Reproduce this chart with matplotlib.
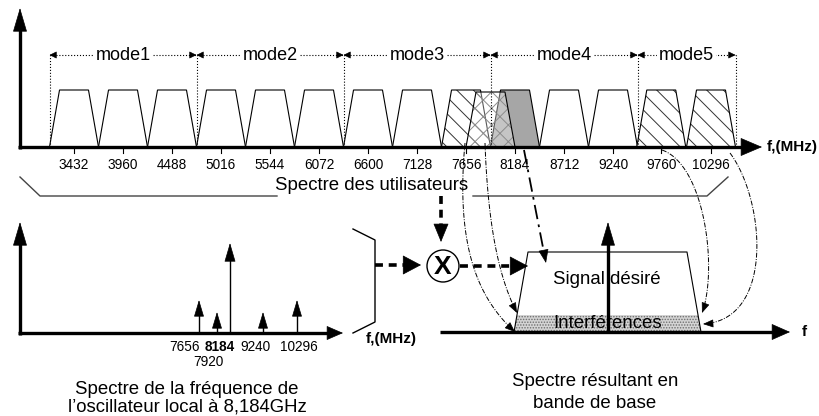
import numpy as np
import matplotlib
matplotlib.use("Agg")
import matplotlib.pyplot as plt
from matplotlib.patches import Polygon, Circle
from math import comb

plt.rcParams['font.family'] = ['Liberation Sans', 'DejaVu Sans']
plt.rcParams['hatch.linewidth'] = 0.7

W, H = 819, 416

# ---- data -------------------------------------------------------------
band_freqs = [3432, 3960, 4488, 5016, 5544, 6072, 6600, 7128,
              7656, 8184, 8712, 9240, 9760, 10296]
band_kind = ['plain'] * 8 + ['hatch', 'gray', 'plain', 'plain', 'hatch', 'hatch']
image_freq = 7920          # image band (cross hatched)
mode_names = ['mode1', 'mode2', 'mode3', 'mode4', 'mode5']
mode_edges = [3168, 4752, 6336, 7920, 9504, 10560]

lo_freqs = [7656, 7920, 8184, 9240, 10296]
lo_amp = [33, 21, 90, 21, 33]            # relative height of LO lines
lo_labels = [str(f) for f in lo_freqs]

BW_BOT = 264   # half width of band at base (MHz)
BW_TOP = 156   # half width of band at top (MHz)
BAND_H = 57
IMG_H = 55

# ---- layout helpers ---------------------------------------------------
BASE_Y = 147                 # baseline of top spectrum (px from top)
PX_PER_MHZ = 49 / 528.
f0 = 3432 - 74 / PX_PER_MHZ

fig = plt.figure(figsize=(W / 100, H / 100), dpi=100)
axf = fig.add_axes([0, 1 - BASE_Y / H, 1, BASE_Y / H])
axf.set_xlim(f0, f0 + W / PX_PER_MHZ)
axf.set_ylim(0, BASE_Y)
axf.axis('off')

ax = fig.add_axes([0, 0, 1, 1], zorder=3)
ax.set_xlim(0, W)
ax.set_ylim(H, 0)
ax.axis('off')


def head(a, tip, d, length, half, lw=0.5):
    d = np.asarray(d, float)
    d = d / np.hypot(*d)
    tail = np.asarray(tip, float) - d * length
    a.annotate('', xy=tip, xytext=tuple(tail),
               arrowprops=dict(arrowstyle='-|>,head_length=%.2f,head_width=%.2f' % (length * 0.72, half * 0.72),
                               mutation_scale=1, color='k', lw=lw, shrinkA=0, shrinkB=0))


def arrow(a, start, tip, length, half, lw=2.4, dashes=None):
    start = np.asarray(start, float)
    tip = np.asarray(tip, float)
    d = tip - start
    d = d / np.hypot(*d)
    end = tip - d * length * 0.8
    kw = dict(color='k', lw=lw, solid_capstyle='butt', dash_capstyle='butt')
    if dashes is not None:
        kw['dashes'] = dashes
    a.plot([start[0], end[0]], [start[1], end[1]], **kw)
    head(a, tuple(tip), d, length, half)


def bez(pts, n=80):
    pts = np.asarray(pts, float)
    k = len(pts) - 1
    t = np.linspace(0, 1, n)[:, None]
    return sum(comb(k, i) * t ** i * (1 - t) ** (k - i) * pts[i] for i in range(k + 1))


def curve(a, pts, hl=9, hw=3.5, lw=0.7, dashes=(5, 1.5, 1, 1.5)):
    c = bez(pts)
    a.plot(c[:-4, 0], c[:-4, 1], color='k', lw=lw, dashes=dashes)
    d = np.asarray(pts[-1], float) - np.asarray(pts[-2], float)
    head(a, pts[-1], d, hl, hw)


def trap(fc, h, hb=BW_BOT, ht=BW_TOP):
    return [(fc - hb, 0), (fc - ht, h), (fc + ht, h), (fc + hb, 0)]


# ---- top spectrum ------------------------------------------------------
for fc, kind in zip(band_freqs, band_kind):
    pts = trap(fc, BAND_H)
    if kind == 'gray':
        axf.add_patch(Polygon(pts, closed=True, fc='#a6a6a6', ec='k', lw=0.8))
    elif kind == 'hatch':
        axf.add_patch(Polygon(pts, closed=True, fc='white', ec='#333333', lw=0, hatch='\\\\'))
        axf.add_patch(Polygon(pts, closed=True, fill=False, ec='k', lw=0.8))
    else:
        axf.add_patch(Polygon(pts, closed=True, fc='white', ec='k', lw=0.8))
    axf.plot([fc, fc], [-1.5, -6], color='k', lw=0.8, clip_on=False)
    axf.text(fc, -18, str(fc), ha='center', va='center', fontsize=9.8)

img = trap(image_freq, IMG_H)
axf.add_patch(Polygon(img, closed=True, fc=(1, 1, 1, 0.35), ec='#8c8c8c', lw=0, hatch='xx'))
axf.add_patch(Polygon(img, closed=True, fill=False, ec='k', lw=0.8))

# mode brackets
MODE_Y = BASE_Y - 55
for i, name in enumerate(mode_names):
    a, b = mode_edges[i], mode_edges[i + 1]
    axf.plot([a, b], [MODE_Y, MODE_Y], color='k', lw=0.8, ls=':')
    axf.text((a + b) / 2, MODE_Y, name, ha='center', va='center', fontsize=13,
             bbox=dict(fc='white', ec='none', pad=1))
for e in mode_edges:
    axf.plot([e, e], [0, MODE_Y], color='k', lw=0.8, ls=':')

# small bracket heads (pixel axes)
for i in range(len(mode_names)):
    xa = 74 + (mode_edges[i] - 3432) * PX_PER_MHZ
    xb = 74 + (mode_edges[i + 1] - 3432) * PX_PER_MHZ
    head(ax, (xa, 55), (-1, 0), 6, 3)
    head(ax, (xb, 55), (1, 0), 6, 3)

# top axes
arrow(ax, (20, 149), (20, 8), 22, 6.5)
arrow(ax, (18, 147), (762, 147), 20, 8.5)
ax.text(767, 147, 'f,(MHz)', ha='left', va='center', fontsize=11, fontweight='bold')

# brace under the user spectrum
ax.plot([20, 40, 277], [177, 196, 196], color='#444444', lw=1)
ax.plot([473, 707, 728], [196, 196, 177], color='#444444', lw=1)
ax.text(372, 186, 'Spectre des utilisateurs', ha='center', va='center', fontsize=13.4)

# ---- local oscillator spectrum -----------------------------------------
LO_Y = 333
lo_x = [199, 217, 230, 263, 297]
lab_x = [185, 208, 220, 255, 299]
lab_y = [347, 362, 347, 347, 347]
arrow(ax, (20, LO_Y + 2), (20, 222), 22, 6.5)
arrow(ax, (18, LO_Y), (343, LO_Y), 15, 6.5)
for x, amp, lab, lx, ly in zip(lo_x, lo_amp, lo_labels, lab_x, lab_y):
    big = amp > 50
    arrow(ax, (x, LO_Y), (x, LO_Y - amp), 17 if big else 15, 5 if big else 4.5, lw=1.0)
    ax.text(lx, ly, lab, ha='center', va='center', fontsize=9.8,
            fontweight='bold' if big else 'normal')
ax.text(366, 339, 'f,(MHz)', ha='left', va='center', fontsize=11, fontweight='bold')
ax.text(187, 389, 'Spectre de la fréquence de', ha='center', va='center', fontsize=13.4)
ax.text(187, 407, 'l\u2019oscillateur local à 8,184GHz', ha='center', va='center', fontsize=13.4)

# bracket and mixer
ax.plot([353, 375, 375, 353], [229, 240, 322, 333], color='k', lw=1)
arrow(ax, (375, 265), (421, 265), 17, 9, lw=2.6, dashes=(2.2, 1.6))
ax.add_patch(Circle((443, 266), 16, fc='white', ec='k', lw=1))
ax.text(443, 267, 'X', ha='center', va='center', fontsize=19, fontweight='bold')
arrow(ax, (441, 196), (441, 242), 17, 7, lw=2.6, dashes=(2.2, 1.6))
arrow(ax, (460, 266), (528, 266), 17, 9, lw=2.6, dashes=(2.2, 1.6))

# ---- baseband spectrum --------------------------------------------------
BB_Y = 332
sig = [(514, BB_Y), (528, 252), (687, 252), (701, BB_Y)]
ax.add_patch(Polygon(sig, closed=True, fc='white', ec='none', zorder=1))
ax.add_patch(Polygon([(514, BB_Y), (517, 315), (698, 315), (701, BB_Y)], closed=True,
                     fc='#d4d4d4', ec='#6e6e6e', lw=0, hatch='......', zorder=1))
ax.plot(*zip(*sig), color='k', lw=0.8)
arrow(ax, (440, BB_Y), (790, BB_Y), 17, 7.5)
arrow(ax, (608, BB_Y + 1), (608, 222), 22, 6.5)
ax.text(802, 332, 'f', ha='left', va='center', fontsize=11, fontweight='bold')
ax.text(607, 279, 'Signal désiré', ha='center', va='center', fontsize=13.4)
ax.text(608, 324, 'Interférences', ha='center', va='center', fontsize=13.4)
ax.text(595, 382, 'Spectre résultant en', ha='center', va='center', fontsize=13.4)
ax.text(595, 403, 'bande de base', ha='center', va='center', fontsize=13.4)

# ---- translation arrows -------------------------------------------------
arrow(ax, (524, 150), (546, 263), 12, 4.5, lw=1.3, dashes=(8, 3, 1.5, 3))
curve(ax, [(465, 143), (455, 250), (480, 300), (515, 332)])
curve(ax, [(485, 143), (488, 230), (500, 280), (517, 313)])
curve(ax, [(662, 150), (705, 165), (718, 270), (702, 313)])
curve(ax, [(730, 153), (765, 200), (775, 320), (703, 324)])

fig.savefig('out.png', dpi=100)
